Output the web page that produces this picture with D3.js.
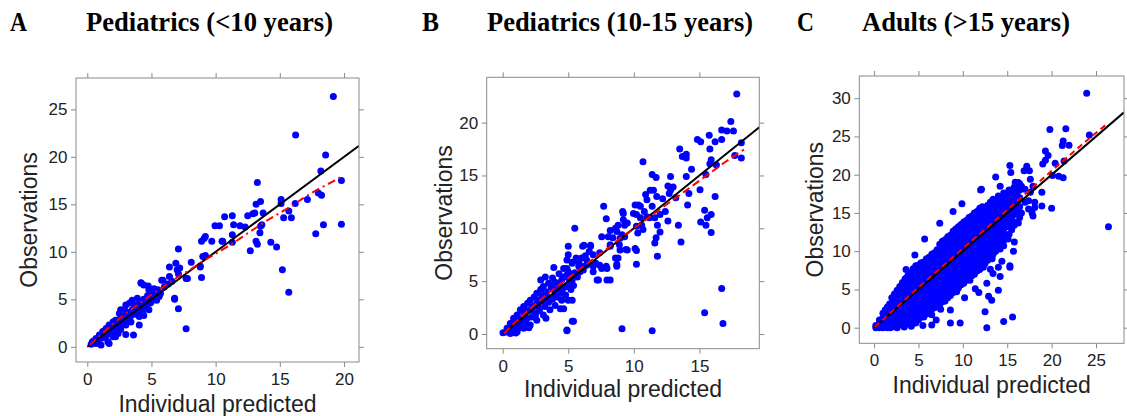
<!DOCTYPE html>
<html><head><meta charset="utf-8">
<script src="https://cdn.jsdelivr.net/npm/d3@7"></script>
<style>body{margin:0;background:#fff}svg{display:block}</style>
</head><body><svg id="c" width="1127" height="416"></svg>
<script>
const panelLetters = ["A","B","C"];
const panelTitles = ["Pediatrics (<10 years)","Pediatrics (10-15 years)","Adults (>15 years)"];
const xLabel = "Individual predicted";
const yLabel = "Observations";
const xTicksA = [0,5,10,15,20], yTicksA = [0,5,10,15,20,25];
const xTicksB = [0,5,10,15], yTicksB = [0,5,10,15,20];
const xTicksC = [0,5,10,15,20,25], yTicksC = [0,5,10,15,20,25,30];

const pointsA = [
[19.17,26.34],[16.23,22.3],[18.57,20.2],[18.2,18.5],[19.8,17.5],[13.25,17.3],[15.1,15.5],[15.1,15.1],[16.2,15.1],[17.15,15.5],[18.0,16.2],[18.25,15.95],[19.8,12.9],[18.4,12.85],[17.8,11.9],[13.5,15.3],[13.15,15.0],[13.05,14.1],[12.5,13.8],[13.7,14.1],[13.6,12.85],[13.45,12.0],[13.15,11.1],[13.25,10.8],[12.7,10.1],[14.3,11.0],[14.75,10.5],[15.2,8.1],[15.7,5.75],[15.3,13.6],[15.9,13.6],[15.7,14.3],[11.3,13.8],[10.7,13.7],[10.3,12.75],[9.95,12.75],[11.4,12.85],[11.9,12.75],[12.3,12.6],[11.3,11.8],[10.55,11.1],[9.7,11.1],[9.2,11.6],[8.9,11.1],[9.0,9.5],[8.8,8.4],[8.9,7.3],[8.1,8.9],[7.1,10.3],[6.9,8.8],[7.2,8.3],[6.8,5.0],[7.1,4.0],[7.7,1.9],[7.7,7.2],[6.4,7.4],[7.1,7.7],[5.8,7.0],[13.5,12.7],[12.9,14.0],[11.3,11.0],
[9.1,11.4],[10.5,11.1],[9.2,9.6],[8.8,8.5],[7.0,8.1],[6.4,8.4],[7.8,7.2],[5.9,7.0],[4.2,6.7],[4.4,6.5],[5.2,6.1],[5.4,5.8],[4.8,6.0],[5.7,5.6],[6.8,5.1],[3.5,4.9],[3.9,5.1],[3.3,4.6],[3.7,4.2],[4.2,4.6],[4.6,4.2],[4.7,4.9],[4.8,3.9],[4.3,3.7],[2.9,3.9],[2.5,3.5],[2.8,3.2],[2.2,2.8],[2.0,2.6],[1.7,2.3],[1.46,1.93],[1.2,1.6],[0.94,1.23],[0.68,0.88],[0.4,0.53],[0.3,0.28],[1.07,0.18],[1.6,0.53],[2.0,1.05],[2.4,1.4],[2.6,1.83],[3.0,2.3],[3.4,2.6],[4.05,2.3],[3.0,1.3],[3.6,1.23],[2.2,1.05],[1.7,0.35],[0.68,0.35],[1.46,1.23],[1.85,1.76],[2.1,2.1],[2.4,2.3],[3.15,3.5],[3.8,3.9],[4.05,3.2],[4.4,3.3],[4.96,4.7],[5.4,4.9],[5.2,5.3],[5.6,5.3],[4.8,5.3],[4.18,6.74],[4.75,6.4],
[0.5,0.6],[0.8,0.5],[0.9,1.0],[1.1,0.9],[1.3,1.3],[1.4,1.0],[1.5,1.6],[1.7,1.4],[1.8,2.0],[1.9,1.5],[2.1,2.4],[2.2,1.9],[2.3,2.7],[2.5,2.2],[2.6,3.0],[2.7,2.5],[2.9,3.3],[3.0,2.8],[3.2,3.6],[3.3,3.0],[3.5,3.9],[3.6,3.4],[3.8,4.4],[3.9,3.6],[4.1,4.6],[4.2,4.0],[4.4,5.0],[4.5,4.4],[4.7,5.4],[4.9,4.6],[5.1,5.6],[5.3,5.1],[5.5,6.0],[5.6,5.5],[6.0,6.3],[6.3,6.6],[6.6,6.9],[3.0,4.4],[2.6,3.9]
];
const smoothA = [[0.2,0.2],[1,1.2],[2,2.4],[3,3.5],[4,4.5],[5,5.5],[6,6.4],[7,7.3],[8,8.1],[9,9.0],[10,9.8],[11,10.6],[12,11.5],[13,12.4],[14,13.3],[15,14.1],[16,14.9],[17,15.8],[18,16.6],[19,17.3],[19.8,17.9]];

const pointsB = [
[17.85,22.7],[17.4,20.1],[16.7,19.3],[17.1,19.2],[17.6,19.2],[15.75,18.8],[14.85,18.4],[15.1,18.2],[16.2,18.2],[15.8,17.5],[16.7,18.4],[18.2,18.1],[18.2,16.65],[17.7,16.9],[13.5,17.5],[14.0,17.0],[13.7,16.8],[14.0,16.65],[14.4,15.6],[14.0,14.9],[15.5,15.1],[15.9,16.5],[16.3,16.0],[15.8,16.1],[16.2,13.0],[15.05,13.65],[15.4,11.7],[15.9,11.3],[15.6,11.0],[15.1,10.6],[15.5,10.3],[15.9,9.6],[10.7,16.3],[11.4,15.1],[11.7,14.8],[12.8,14.9],[12.6,14.0],[13.0,13.9],[12.8,13.6],[12.2,12.8],[12.7,13.3],[13.2,12.9],[14.2,13.3],[14.1,12.2],[13.4,10.3],[13.6,8.7],[11.8,7.35],[11.5,13.6],[10.9,13.2],[11.0,12.7],[11.4,12.1],[11.6,11.0],[11.8,10.3],[12.0,11.3],[12.4,11.6],[12.6,10.7],[12.0,9.65],[11.7,9.1],[11.6,8.6],[11.2,11.0],[10.1,12.2],[10.5,12.1],[10.2,11.3],[10.5,11.0],[10.6,10.3],[10.2,10.2],[10.7,9.9],[10.3,9.55],[10.1,8.1],[10.2,7.9],[9.4,8.0],[9.2,11.4],[9.3,10.3],[8.8,10.3],[8.7,9.7],[9.1,9.4],[8.4,9.1],[8.9,8.45],[8.2,8.45],[8.8,7.2],[8.7,6.4],[10.2,6.6],[8.2,5.1],[9.1,0.5],[11.4,0.3],[16.7,4.3],[15.4,2.0],[16.8,1.0],
[7.7,12.1],[7.9,10.9],[7.55,9.2],[8.05,9.2],[8.2,9.8],[7.9,6.4],[7.3,5.1],[6.9,6.4],[7.1,6.7],[7.4,7.7],[6.7,8.3],[6.1,8.3],[6.3,7.4],[6.4,7.0],[6.15,6.05],[6.9,7.5],[5.5,10.0],[5.0,8.3],[5.0,7.5],[5.3,6.8],[5.8,6.4],[5.6,7.2],[3.9,6.3],[4.9,6.2],[5.1,5.7],[5.3,3.2],[5.3,1.2],[4.9,0.3],[4.5,3.85],[4.4,2.4],[9.5,10.5],[9.2,10.8],[8.6,10.0],[8.95,9.05],[9.3,9.2],[9.15,11.6],[8.95,7.95],[9.5,7.95],[8.7,6.6],[8.6,7.2],[8.2,8.3],[9.97,11.4],[10.35,12.2],[10.8,11.6],[11.0,11.1],[11.75,13.0],[11.25,13.6],
[6.7,8.4],[6.2,8.4],[4.65,6.2],[5.3,6.7],[5.7,7.0],[4.9,7.0],[4.3,5.7],[3.5,4.8],[3.1,4.5],[2.9,4.2],[2.6,3.85],[2.4,3.5],[2.1,3.2],[1.9,2.9],[1.6,2.6],[1.35,2.3],[1.1,1.8],[0.83,1.5],[0.58,1.0],[0.33,0.54],[0.02,0.13],[0.58,0.06],[1.1,0.22],[1.6,0.54],[2.1,0.85],[2.6,1.3],[3.1,1.8],[3.6,2.3],[4.0,2.7],[4.5,3.2],[4.8,3.7],[5.0,3.2],[4.9,0.38],[5.4,1.2],[4.65,2.4],[5.2,4.2],[5.4,4.6],[3.9,4.2],[3.4,3.5],[3.0,3.1],[2.7,2.6],[2.4,2.0],[1.85,1.5],[1.35,1.0],[0.97,0.7],[0.7,1.0],[2.9,5.1],[3.25,5.4],[3.8,5.3],[4.1,4.8],[4.5,5.1],[4.9,5.6],[5.0,5.9],[5.9,5.9],[6.05,6.4],[6.4,6.5],[5.7,5.4],[5.3,5.1],[4.0,3.7],[4.3,4.2],[1.6,2.0],[1.2,1.5],[2.1,2.3],[2.6,2.9],[6.9,5.9],[7.2,5.1],[7.95,5.1],[7.4,6.5],[7.55,6.2],[7.95,6.2],
[0.3,0.2],[0.8,0.4],[1.0,1.2],[1.3,0.6],[1.5,1.3],[1.8,1.0],[1.9,2.2],[2.2,1.6],[2.3,2.6],[2.5,1.8],[2.7,3.2],[2.8,2.2],[3.0,3.6],[3.2,2.6],[3.3,4.0],[3.5,3.0],[3.7,4.4],[3.8,3.3],[4.0,4.9],[4.2,3.5],[4.4,4.6],[4.6,4.3],[4.7,5.4],[4.9,4.5],[5.1,5.0],[5.5,5.8],[5.8,6.8],[6.0,7.2],[6.6,7.8],[1.0,0.1],[2.0,0.6],[3.3,1.5]
];
const smoothB = [[0.1,0.05],[1,1.15],[2,2.3],[3,3.35],[4,4.35],[5,5.3],[6,6.25],[7,7.2],[8,8.1],[9,9.1],[10,10.0],[11,10.9],[12,11.8],[13,12.7],[14,13.6],[15,14.5],[16,15.4],[17,16.3],[18.4,17.45]];

const pointsC = [
[0.2,0],[0.2,0.3],[0.6,0],[0.6,0.5],[0.6,1.0],[1.0,0],[1.0,0.6],[1.0,1.3],[1.0,1.9],
[1.5,0],[1.5,0.6],[1.5,1.3],[1.5,2.0],[1.5,2.7],
[2.0,0.1],[2.0,0.8],[2.0,1.6],[2.0,2.4],[2.0,3.2],[2.0,3.9],
[2.6,0.3],[2.6,1.0],[2.6,1.8],[2.6,2.6],[2.6,3.4],[2.6,4.2],[2.6,4.9],
[3.2,0.4],[3.2,1.2],[3.2,2.0],[3.2,2.8],[3.2,3.6],[3.2,4.4],[3.2,5.2],[3.2,5.9],
[3.8,0.5],[3.8,1.3],[3.8,2.1],[3.8,2.9],[3.8,3.7],[3.8,4.5],[3.8,5.3],[3.8,6.1],[3.8,6.8],
[4.4,0.7],[4.4,1.5],[4.4,2.3],[4.4,3.1],[4.4,3.9],[4.4,4.7],[4.4,5.5],[4.4,6.3],[4.4,7.1],[4.4,7.7],
[5.0,1.0],[5.0,1.8],[5.0,2.6],[5.0,3.4],[5.0,4.2],[5.0,5.0],[5.0,5.8],[5.0,6.6],[5.0,7.4],[5.0,8.2],
[5.6,1.4],[5.6,2.2],[5.6,3.0],[5.6,3.8],[5.6,4.6],[5.6,5.4],[5.6,6.2],[5.6,7.0],[5.6,7.8],[5.6,8.6],
[6.2,2.0],[6.2,2.8],[6.2,3.6],[6.2,4.4],[6.2,5.2],[6.2,6.0],[6.2,6.8],[6.2,7.6],[6.2,8.4],[6.2,9.2],
[6.8,2.6],[6.8,3.4],[6.8,4.2],[6.8,5.0],[6.8,5.8],[6.8,6.6],[6.8,7.4],[6.8,8.2],[6.8,9.0],[6.8,9.8],
[7.4,3.0],[7.4,3.8],[7.4,4.6],[7.4,5.4],[7.4,6.2],[7.4,7.0],[7.4,7.8],[7.4,8.6],[7.4,9.4],[7.4,10.2],[7.4,10.9],
[8.0,3.5],[8.0,4.3],[8.0,5.1],[8.0,5.9],[8.0,6.7],[8.0,7.5],[8.0,8.3],[8.0,9.1],[8.0,9.9],[8.0,10.7],[8.0,11.5],
[8.6,4.2],[8.6,5.0],[8.6,5.8],[8.6,6.6],[8.6,7.4],[8.6,8.2],[8.6,9.0],[8.6,9.8],[8.6,10.6],[8.6,11.4],[8.6,12.1],
[9.2,5.0],[9.2,5.8],[9.2,6.6],[9.2,7.4],[9.2,8.2],[9.2,9.0],[9.2,9.8],[9.2,10.6],[9.2,11.4],[9.2,12.2],[9.2,12.9],
[9.8,5.6],[9.8,6.4],[9.8,7.2],[9.8,8.0],[9.8,8.8],[9.8,9.6],[9.8,10.4],[9.8,11.2],[9.8,12.0],[9.8,12.8],[9.8,13.5],
[10.4,6.2],[10.4,7.0],[10.4,7.8],[10.4,8.6],[10.4,9.4],[10.4,10.2],[10.4,11.0],[10.4,11.8],[10.4,12.6],[10.4,13.4],[10.4,14.0],
[11.0,6.8],[11.0,7.6],[11.0,8.4],[11.0,9.2],[11.0,10.0],[11.0,10.8],[11.0,11.6],[11.0,12.4],[11.0,13.2],[11.0,14.0],[11.0,14.6],
[11.6,7.4],[11.6,8.2],[11.6,9.0],[11.6,9.8],[11.6,10.6],[11.6,11.4],[11.6,12.2],[11.6,13.0],[11.6,13.8],[11.6,14.6],[11.6,15.2],
[12.2,8.0],[12.2,8.8],[12.2,9.6],[12.2,10.4],[12.2,11.2],[12.2,12.0],[12.2,12.8],[12.2,13.6],[12.2,14.4],[12.2,15.2],[12.2,15.8],
[12.8,8.8],[12.8,9.6],[12.8,10.4],[12.8,11.2],[12.8,12.0],[12.8,12.8],[12.8,13.6],[12.8,14.4],[12.8,15.2],[12.8,16.0],
[13.4,9.6],[13.4,10.6],[13.4,11.4],[13.4,12.2],[13.4,13.0],[13.4,13.8],[13.4,14.6],[13.4,15.4],[13.4,16.2],[13.4,16.8],
[14.0,10.4],[14.0,11.6],[14.0,12.6],[14.0,13.4],[14.0,14.2],[14.0,15.0],[14.0,15.8],[14.0,16.6],[14.0,17.2],
[14.6,11.4],[14.6,12.8],[14.6,13.8],[14.6,14.6],[14.6,15.4],[14.6,16.2],[14.6,17.0],[14.6,17.6],
[15.2,12.2],[15.2,13.6],[15.2,15.0],[15.2,15.8],[15.2,16.6],[15.2,17.4],[15.2,18.0],
[15.8,13.4],[15.8,14.8],[15.8,16.0],[15.8,17.0],[15.8,17.8],[15.8,18.4],
[16.4,14.4],[16.4,15.8],[16.4,17.0],[16.4,18.0],[16.4,18.8],
[1.25,0.3],[1.25,1.0],[1.25,1.7],[1.25,2.3],
[1.75,0.3],[1.75,1.0],[1.75,1.7],[1.75,2.4],[1.75,3.1],
[2.3,0.4],[2.3,1.2],[2.3,2.0],[2.3,2.8],[2.3,3.6],[2.3,4.4],
[2.9,0.4],[2.9,1.4],[2.9,2.2],[2.9,3.0],[2.9,3.8],[2.9,4.6],[2.9,5.4],
[3.5,0.8],[3.5,1.6],[3.5,2.4],[3.5,3.2],[3.5,4.0],[3.5,4.8],[3.5,5.6],[3.5,6.4],
[4.1,0.9],[4.1,1.7],[4.1,2.5],[4.1,3.3],[4.1,4.1],[4.1,4.9],[4.1,5.7],[4.1,6.5],[4.1,7.2],
[4.7,1.1],[4.7,1.9],[4.7,2.7],[4.7,3.5],[4.7,4.3],[4.7,5.1],[4.7,5.9],[4.7,6.7],[4.7,7.5],[4.7,8.1],
[5.3,1.4],[5.3,2.2],[5.3,3.0],[5.3,3.8],[5.3,4.6],[5.3,5.4],[5.3,6.2],[5.3,7.0],[5.3,7.8],[5.3,8.5],
[5.9,1.8],[5.9,2.6],[5.9,3.4],[5.9,4.2],[5.9,5.0],[5.9,5.8],[5.9,6.6],[5.9,7.4],[5.9,8.2],[5.9,9.0],
[6.5,2.4],[6.5,3.2],[6.5,4.0],[6.5,4.8],[6.5,5.6],[6.5,6.4],[6.5,7.2],[6.5,8.0],[6.5,8.8],[6.5,9.6],
[7.1,3.0],[7.1,3.8],[7.1,4.6],[7.1,5.4],[7.1,6.2],[7.1,7.0],[7.1,7.8],[7.1,8.6],[7.1,9.4],[7.1,10.2],
[7.7,3.4],[7.7,4.2],[7.7,5.0],[7.7,5.8],[7.7,6.6],[7.7,7.4],[7.7,8.2],[7.7,9.0],[7.7,9.8],[7.7,10.6],[7.7,11.3],
[8.3,3.9],[8.3,4.7],[8.3,5.5],[8.3,6.3],[8.3,7.1],[8.3,7.9],[8.3,8.7],[8.3,9.5],[8.3,10.3],[8.3,11.1],[8.3,11.9],
[8.9,4.6],[8.9,5.4],[8.9,6.2],[8.9,7.0],[8.9,7.8],[8.9,8.6],[8.9,9.4],[8.9,10.2],[8.9,11.0],[8.9,11.8],[8.9,12.6],
[9.5,5.2],[9.5,6.0],[9.5,6.8],[9.5,7.6],[9.5,8.4],[9.5,9.2],[9.5,10.0],[9.5,10.8],[9.5,11.6],[9.5,12.4],[9.5,13.2],
[10.1,5.8],[10.1,6.6],[10.1,7.4],[10.1,8.2],[10.1,9.0],[10.1,9.8],[10.1,10.6],[10.1,11.4],[10.1,12.2],[10.1,13.0],[10.1,13.8],
[10.7,6.4],[10.7,7.2],[10.7,8.0],[10.7,8.8],[10.7,9.6],[10.7,10.4],[10.7,11.2],[10.7,12.0],[10.7,12.8],[10.7,13.6],[10.7,14.4],
[11.3,7.0],[11.3,7.8],[11.3,8.6],[11.3,9.4],[11.3,10.2],[11.3,11.0],[11.3,11.8],[11.3,12.6],[11.3,13.4],[11.3,14.2],[11.3,15.0],
[11.9,7.6],[11.9,8.4],[11.9,9.2],[11.9,10.0],[11.9,10.8],[11.9,11.6],[11.9,12.4],[11.9,13.2],[11.9,14.0],[11.9,14.8],[11.9,15.6],
[12.5,8.4],[12.5,9.2],[12.5,10.0],[12.5,10.8],[12.5,11.6],[12.5,12.4],[12.5,13.2],[12.5,14.0],[12.5,14.8],[12.5,15.6],
[13.1,9.2],[13.1,10.0],[13.1,10.8],[13.1,11.6],[13.1,12.4],[13.1,13.2],[13.1,14.0],[13.1,14.8],[13.1,15.6],[13.1,16.4],
[13.7,10.0],[13.7,11.0],[13.7,11.8],[13.7,12.6],[13.7,13.4],[13.7,14.2],[13.7,15.0],[13.7,15.8],[13.7,16.6],
[14.3,11.0],[14.3,12.2],[14.3,13.0],[14.3,13.8],[14.3,14.6],[14.3,15.4],[14.3,16.2],[14.3,17.0],
[14.9,12.0],[14.9,13.2],[14.9,14.2],[14.9,15.0],[14.9,15.8],[14.9,16.6],[14.9,17.4],
[15.5,12.8],[15.5,14.2],[15.5,15.4],[15.5,16.4],[15.5,17.2],[15.5,18.0],
[16.1,13.8],[16.1,15.2],[16.1,16.4],[16.1,17.4],[16.1,18.2],
[23.95,30.66],[24.25,25.2],[26.4,13.2],[19.8,25.9],[21.6,26.0],[20.0,15.6],[21.3,24.4],[21.2,23.8],[21.96,23.85],[19.3,23.1],[19.6,22.5],[19.3,21.9],[21.4,21.8],[19.0,21.4],[20.4,21.5],[20.8,19.8],[21.3,19.6],[20.1,19.9],[17.2,21.1],[16.9,20.5],[17.5,20.5],[15.4,20.3],[17.6,19.4],[16.3,18.8],[17.9,18.5],[18.9,17.7],[18.1,16.4],[18.1,15.7],[13.7,19.7],[14.2,18.5],[15.9,19.0],[17.4,16.6],[18.9,15.9],[15.5,13.7],[15.8,11.2],[15.7,10.0],[15.3,8.1],[14.4,8.7],[14.0,7.9],[13.3,9.0],[13.1,7.65],[12.3,7.9],[15.3,7.9],[12.1,18.1],
[16.25,18.97],[16.6,18.5],[17.0,18.1],[17.6,17.7],[15.9,17.7],[15.1,17.2],[14.75,16.6],[15.5,16.4],[16.1,15.5],[16.6,15.0],[17.0,16.4],[17.4,15.5],[17.8,15.0],[17.9,14.6],[16.25,13.7],[15.1,14.6],[14.4,14.2],[13.6,14.6],[13.25,13.7],[12.9,12.9],[14.0,12.4],[14.75,12.0],[15.1,11.6],[14.6,10.7],[13.6,11.1],[12.9,11.1],[12.1,10.3],[12.5,9.4],[13.4,9.8],[14.2,10.3],
[4.6,9.5],[5.7,11.6],[7.4,13.65],[8.9,15.2],[9.9,16.2],[12.0,18.0],[15.3,21.2],[3.6,7.6],
[15.6,1.4],[14.6,0.8],[14.0,4.9],[12.9,4.1],[13.25,3.6],[12.5,2.1],[12.7,0.0],[12.7,5.8],[10.8,6.2],[9.7,0.6],[8.6,0.6],[8.6,2.3],[6.5,1.7],[6.5,0.35],[4.7,0.6],[11.4,5.1],[14.2,6.7],[10.4,7.5],[9.3,4.7],[13.4,7.1],[11.8,4.6],[10.2,3.9],[7.5,2.4],
[1.8,0],[2.6,0],[3.4,0.1],[4.2,0.2],[5.5,0.3],[7.0,1.0]
];
const smoothC = [[0.1,0.1],[5,5.25],[10,10.35],[15,15.4],[20,20.5],[24,24.5],[26.3,26.7]];

const layouts = [
  {l:76, r:359, t:78, b:362, xd:[-0.88,21.17], yd:[-1.6,28.3], xTitleY:411.5, yTitleX:37, letterX:10, titleX:86, titleW:247, dash:"8,4,2,4"},
  {l:486.7, r:759.3, t:77.3, b:348.7, xd:[-1.22,19.57], yd:[-1.39,24.29], xTitleY:397, yTitleX:452, letterX:422, titleX:487, titleW:266, dash:"8,4"},
  {l:859.3, r:1124, t:76, b:343.3, xd:[-1.66,28.15], yd:[-2.04,32.9], xTitleY:393, yTitleX:823, letterX:797, titleX:862, titleW:208, dash:"6,4"}
];
const panels = [
  {pts:pointsA, sm:smoothA, xt:xTicksA, yt:yTicksA},
  {pts:pointsB, sm:smoothB, xt:xTicksB, yt:yTicksB},
  {pts:pointsC, sm:smoothC, xt:xTicksC, yt:yTicksC}
];

const svg = d3.select("#c");
const sans = "'Liberation Sans', Arial, sans-serif";
const serif = "'Liberation Serif', 'Times New Roman', serif";
const gray = "#8a8a8a", txt = "#222";

panels.forEach((p, i) => {
  const L = layouts[i];
  const x = d3.scaleLinear().domain(L.xd).range([L.l, L.r]);
  const y = d3.scaleLinear().domain(L.yd).range([L.b, L.t]);

  svg.append("text").attr("x", L.letterX).attr("y", 31)
    .attr("font-family", serif).attr("font-weight", "bold").attr("font-size", 28)
    .attr("textLength", 17).attr("lengthAdjust", "spacingAndGlyphs")
    .attr("fill", "#000").text(panelLetters[i]);
  svg.append("text").attr("x", L.titleX).attr("y", 31)
    .attr("font-family", serif).attr("font-weight", "bold").attr("font-size", 28)
    .attr("textLength", L.titleW).attr("lengthAdjust", "spacingAndGlyphs")
    .attr("fill", "#000").text(panelTitles[i]);

  const cid = "clip" + i;
  svg.append("clipPath").attr("id", cid).append("rect")
    .attr("x", L.l).attr("y", L.t).attr("width", L.r - L.l).attr("height", L.b - L.t);

  const g = svg.append("g").attr("clip-path", `url(#${cid})`);
  g.selectAll("circle").data(p.pts).join("circle")
    .attr("cx", d => x(d[0])).attr("cy", d => y(d[1])).attr("r", 3.5).attr("fill", "#0000ff");

  const xmax = L.xd[1];
  g.append("line").attr("x1", x(0)).attr("y1", y(0)).attr("x2", x(xmax)).attr("y2", y(xmax))
    .attr("stroke", "#000").attr("stroke-width", 2);
  g.append("path").datum(p.sm)
    .attr("d", d3.line().x(d => x(d[0])).y(d => y(d[1])).curve(d3.curveMonotoneX))
    .attr("fill", "none").attr("stroke", "#ff0000").attr("stroke-width", 2)
    .attr("stroke-dasharray", L.dash);

  svg.append("rect").attr("x", L.l).attr("y", L.t).attr("width", L.r - L.l).attr("height", L.b - L.t)
    .attr("fill", "none").attr("stroke", gray).attr("stroke-width", 1);

  const styleAxis = sel => {
    sel.select(".domain").remove();
    sel.selectAll(".tick line").attr("stroke", gray);
    sel.selectAll("text").attr("font-family", sans).attr("font-size", 17).attr("fill", txt);
  };
  svg.append("g").attr("transform", `translate(0,${L.b})`)
    .call(d3.axisBottom(x).tickValues(p.xt).tickSize(5).tickPadding(6)).call(styleAxis);
  svg.append("g").attr("transform", `translate(0,${L.t})`)
    .call(d3.axisTop(x).tickValues(p.xt).tickSize(5).tickFormat("")).call(styleAxis);
  svg.append("g").attr("transform", `translate(${L.l},0)`)
    .call(d3.axisLeft(y).tickValues(p.yt).tickSize(5).tickPadding(3.5)).call(styleAxis);
  svg.append("g").attr("transform", `translate(${L.r},0)`)
    .call(d3.axisRight(y).tickValues(p.yt).tickSize(5).tickFormat("")).call(styleAxis);

  svg.append("text").attr("x", (L.l + L.r) / 2).attr("y", L.xTitleY)
    .attr("text-anchor", "middle").attr("font-family", sans).attr("font-size", 23)
    .attr("fill", txt).text(xLabel);
  svg.append("text").attr("transform", `translate(${L.yTitleX},${(L.t + L.b) / 2}) rotate(-90)`)
    .attr("text-anchor", "middle").attr("font-family", sans).attr("font-size", 23)
    .attr("fill", txt).text(yLabel);
});
</script>
</body></html>
